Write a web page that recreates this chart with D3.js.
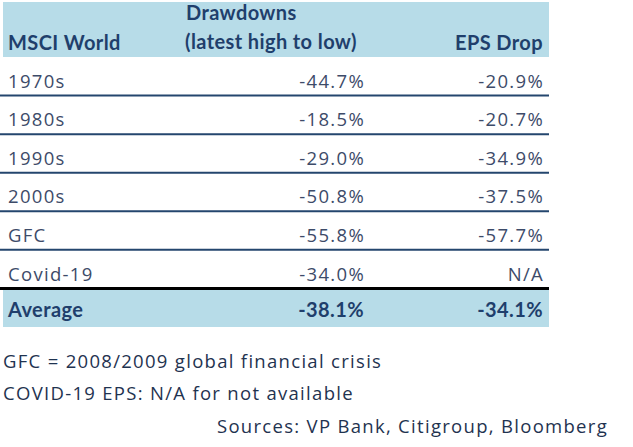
<!DOCTYPE html>
<html><head><meta charset="utf-8">
<script src="https://cdn.jsdelivr.net/npm/d3@7"></script>
<style>body{margin:0;background:#fff}svg{display:block}</style>
</head><body>
<script>
const categories = ["1970s","1980s","1990s","2000s","GFC","Covid-19"];
const drawdowns = ["-44.7%","-18.5%","-29.0%","-50.8%","-55.8%","-34.0%"];
const epsDrop = ["-20.9%","-20.7%","-34.9%","-37.5%","-57.7%","N/A"];
const averageRow = {label:"Average", drawdown:"-38.1%", eps:"-34.1%"};
const headers = {label:"MSCI World", drawdown1:"Drawdowns", drawdown2:"(latest high to low)", eps:"EPS Drop"};
const notes = ["GFC = 2008/2009 global financial crisis","COVID-19 EPS: N/A for not available"];
const source = "Sources: VP Bank, Citigroup, Bloomberg";

const W=633,H=447;
const bodyFont="'Open Sans', sans-serif", headFont="Lato, sans-serif";
const bodyColor="#3d4b69", headColor="#1f3f6c", band="#b7dce8";
const svg=d3.select("body").append("svg").attr("width",W).attr("height",H);

const rowKeys=categories.concat([averageRow.label]);
const y=d3.scaleBand().domain(rowKeys).range([57,327]);
const colX={label:8, drawdown:364, eps:543};

svg.append("rect").attr("x",3).attr("y",2).attr("width",546).attr("height",55).attr("fill",band);
svg.append("rect").attr("x",3).attr("y",y("Average")).attr("width",546).attr("height",y.bandwidth()).attr("fill",band);

const hd=svg.append("g").attr("font-family",headFont).attr("font-weight",700).attr("font-size",20).attr("letter-spacing",0.4).attr("fill",headColor);
hd.append("text").attr("x",colX.label).attr("y",50).text(headers.label);
hd.append("text").attr("x",186).attr("y",20).text(headers.drawdown1);
hd.append("text").attr("x",185).attr("y",49).text(headers.drawdown2);
hd.append("text").attr("x",colX.eps).attr("y",50).attr("text-anchor","end").text(headers.eps);

const rows=categories.map((c,i)=>({label:c,drawdown:drawdowns[i],eps:epsDrop[i]}));
const rg=svg.append("g").attr("font-family",bodyFont).attr("font-weight",400).attr("font-size",18.5).attr("letter-spacing",1.3).attr("fill",bodyColor);
const r=rg.selectAll("g").data(rows).join("g").attr("transform",d=>`translate(0,${y(d.label)+30.7})`);
r.append("text").attr("x",colX.label).text(d=>d.label);
r.append("text").attr("x",colX.drawdown+1).attr("text-anchor","end").text(d=>d.drawdown);
r.append("text").attr("x",colX.eps+1).attr("text-anchor","end").text(d=>d.eps);

svg.selectAll("line.sep").data(categories).join("line").attr("class","sep")
  .attr("x1",0).attr("x2",549)
  .attr("y1",d=>y(d)+y.bandwidth()).attr("y2",d=>y(d)+y.bandwidth())
  .attr("stroke",(d,i)=>i===categories.length-1?"#000":"#24466e")
  .attr("stroke-width",(d,i)=>i===categories.length-1?3:2);

const av=svg.append("g").attr("font-family",headFont).attr("font-weight",700).attr("font-size",20).attr("letter-spacing",0.4).attr("fill",headColor)
  .attr("transform",`translate(0,${y("Average")+29})`);
av.append("text").attr("x",colX.label).text(averageRow.label);
av.append("text").attr("x",colX.drawdown).attr("text-anchor","end").text(averageRow.drawdown);
av.append("text").attr("x",colX.eps).attr("text-anchor","end").text(averageRow.eps);

const ft=svg.append("g").attr("font-family",bodyFont).attr("font-weight",400).attr("font-size",18.5).attr("letter-spacing",1.3).attr("fill","#1f3350");
ft.selectAll("text.n").data(notes).join("text").attr("class","n").attr("x",3).attr("y",(d,i)=>368+i*32).text(d=>d);
ft.append("text").attr("x",608).attr("y",433).attr("text-anchor","end").text(source);
</script>
</body></html>
